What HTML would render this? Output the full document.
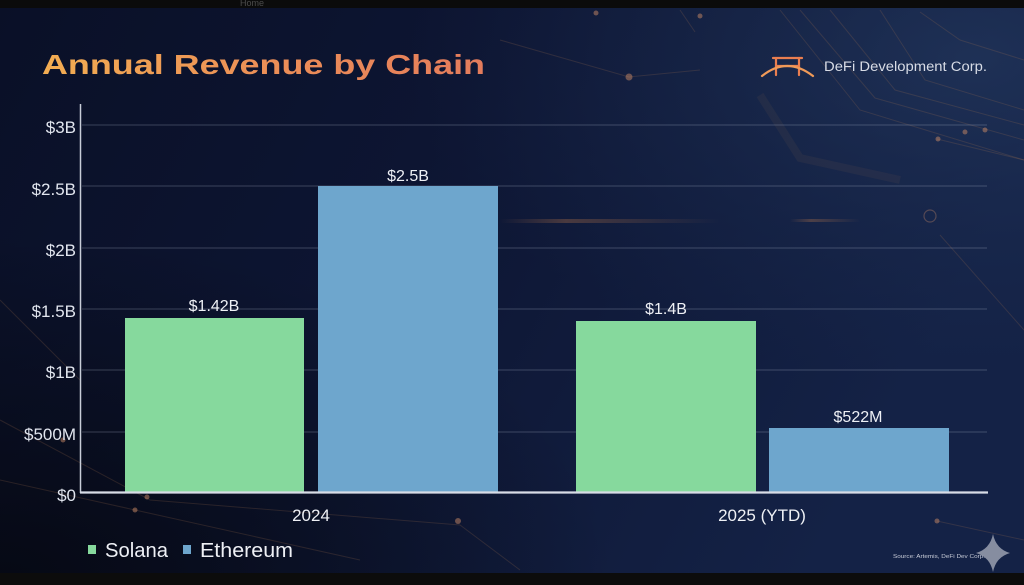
<!DOCTYPE html>
<html><head><meta charset="utf-8">
<style>
html,body{margin:0;padding:0;background:#0a0a0a;}
svg{display:block;}
text{font-family:"Liberation Sans",sans-serif;}
</style></head>
<body>
<svg width="1024" height="585" viewBox="0 0 1024 585" xmlns="http://www.w3.org/2000/svg">
<defs>
  <linearGradient id="bg" x1="0" y1="0" x2="1" y2="0.3">
    <stop offset="0" stop-color="#0a1027"/>
    <stop offset="0.45" stop-color="#0d1532"/>
    <stop offset="1" stop-color="#142246"/>
  </linearGradient>
  <radialGradient id="tr" cx="0.95" cy="0.1" r="0.55">
    <stop offset="0" stop-color="#22365c" stop-opacity="0.75"/>
    <stop offset="1" stop-color="#1a2a4e" stop-opacity="0"/>
  </radialGradient>
  <radialGradient id="bl" cx="0" cy="1" r="0.6">
    <stop offset="0" stop-color="#05070f" stop-opacity="0.85"/>
    <stop offset="1" stop-color="#05070f" stop-opacity="0"/>
  </radialGradient>
  <linearGradient id="title" x1="0" y1="0" x2="1" y2="0">
    <stop offset="0" stop-color="#f2ad52"/>
    <stop offset="0.5" stop-color="#ec8f57"/>
    <stop offset="1" stop-color="#e47c5c"/>
  </linearGradient>
  <linearGradient id="glow" x1="0" y1="0" x2="1" y2="0">
    <stop offset="0" stop-color="#d0824a" stop-opacity="0"/>
    <stop offset="0.3" stop-color="#d0824a" stop-opacity="0.3"/>
    <stop offset="1" stop-color="#d0824a" stop-opacity="0"/>
  </linearGradient>
</defs>

<rect x="0" y="0" width="1024" height="585" fill="url(#bg)"/>
<rect x="0" y="0" width="1024" height="585" fill="url(#tr)"/>
<rect x="0" y="0" width="1024" height="585" fill="url(#bl)"/>

<!-- circuit decorations -->
<g stroke="#b07a52" stroke-opacity="0.2" fill="none" stroke-width="1">
  <path d="M780 10 L860 110 L1024 160"/>
  <path d="M800 10 L875 98 L1024 140"/>
  <path d="M830 10 L895 90 L1024 125"/>
  <path d="M880 10 L925 80 L1024 110"/>
  <path d="M920 12 L960 40 L1024 60"/>
  <path d="M680 10 L695 32"/>
  <path d="M500 40 L629 77 L700 70"/>
  <path d="M937 139 L1024 160"/>
  <path d="M940 235 L1024 330"/>
  <path d="M0 300 L80 380"/>
  <path d="M0 420 L150 500 L460 525 L520 570"/>
  <path d="M0 480 L135 510 L360 560"/>
  <path d="M937 521 L1024 540"/>
</g>
<path d="M760 95 L800 158 L900 180" stroke="#b07a52" stroke-opacity="0.08" stroke-width="8" fill="none"/>
<rect x="500" y="219" width="220" height="4" fill="url(#glow)"/>
<rect x="790" y="219" width="70" height="3" fill="url(#glow)"/>
<g fill="#c98a66" fill-opacity="0.5">
  <circle cx="596" cy="13" r="2.5"/>
  <circle cx="700" cy="16" r="2.5"/>
  <circle cx="629" cy="77" r="3.5"/>
  <circle cx="938" cy="139" r="2.5"/>
  <circle cx="965" cy="132" r="2.5"/>
  <circle cx="985" cy="130" r="2.5"/>
  <circle cx="147" cy="497" r="2.5"/>
  <circle cx="135" cy="510" r="2.5"/>
  <circle cx="458" cy="521" r="3"/>
  <circle cx="937" cy="521" r="2.5"/>
  <circle cx="63" cy="440" r="2.5"/>
</g>
<circle cx="930" cy="216" r="6" fill="none" stroke="#c98a66" stroke-opacity="0.35" stroke-width="1.2"/>

<!-- top and bottom black bars -->
<rect x="0" y="0" width="1024" height="8" fill="#0b0b0b"/>
<text x="240" y="6" font-size="9" fill="#777" fill-opacity="0.6">Home</text>
<rect x="0" y="573" width="1024" height="12" fill="#0c0c0c"/>

<!-- title -->
<text x="42" y="74" font-size="28" font-weight="bold" fill="url(#title)" textLength="443" lengthAdjust="spacingAndGlyphs">Annual Revenue by Chain</text>

<!-- logo -->
<g stroke="#ea7e50" stroke-width="2.2" fill="none" stroke-linecap="round">
  <path d="M773 58 L802 58"/>
  <path d="M776 58 L776 75"/>
  <path d="M799 58 L799 75"/>
  <path d="M776 66 L799 66"/>
  <path d="M762 76 Q787 56 813 76" stroke="#f09a58"/>
</g>
<text x="824" y="71" font-size="13.5" fill="#d8dce6" textLength="163" lengthAdjust="spacingAndGlyphs">DeFi Development Corp.</text>

<!-- gridlines -->
<g stroke="#aab4c8" stroke-opacity="0.3" stroke-width="1">
  <line x1="82" y1="125" x2="987" y2="125"/>
  <line x1="82" y1="186" x2="987" y2="186"/>
  <line x1="82" y1="248" x2="987" y2="248"/>
  <line x1="82" y1="309" x2="987" y2="309"/>
  <line x1="82" y1="370" x2="987" y2="370"/>
  <line x1="82" y1="432" x2="987" y2="432"/>
</g>

<!-- y labels -->
<g font-size="17" fill="#e2e6ef" text-anchor="end">
  <text x="76" y="133">$3B</text>
  <text x="76" y="195">$2.5B</text>
  <text x="76" y="256">$2B</text>
  <text x="76" y="317">$1.5B</text>
  <text x="76" y="378">$1B</text>
  <text x="76" y="440">$500M</text>
  <text x="76" y="501">$0</text>
</g>

<!-- bars -->
<rect x="125" y="318" width="179" height="174" fill="#86d99d"/>
<rect x="318" y="186" width="180" height="306" fill="#6ea6cd"/>
<rect x="576" y="321" width="180" height="171" fill="#86d99d"/>
<rect x="769" y="428" width="180" height="64" fill="#6ea6cd"/>

<!-- axes -->
<line x1="80.5" y1="104" x2="80.5" y2="493" stroke="#c8cdd8" stroke-width="1.5"/>
<line x1="80" y1="492.5" x2="988" y2="492.5" stroke="#d8dce6" stroke-width="2.2"/>

<!-- value labels -->
<g font-size="16" fill="#eef0f5" text-anchor="middle">
  <text x="214" y="311">$1.42B</text>
  <text x="408" y="181">$2.5B</text>
  <text x="666" y="314">$1.4B</text>
  <text x="858" y="422">$522M</text>
</g>

<!-- category labels -->
<g font-size="17" fill="#eef0f5" text-anchor="middle">
  <text x="311" y="521">2024</text>
  <text x="762" y="521">2025 (YTD)</text>
</g>

<!-- legend -->
<rect x="88" y="545" width="8" height="9" fill="#86d99d"/>
<text x="105" y="557" font-size="20" fill="#eef0f5" textLength="63" lengthAdjust="spacingAndGlyphs">Solana</text>
<rect x="183" y="545" width="8" height="9" fill="#6ea6cd"/>
<text x="200" y="557" font-size="20" fill="#eef0f5" textLength="93" lengthAdjust="spacingAndGlyphs">Ethereum</text>

<!-- source + sparkle -->
<text x="893" y="558" font-size="5.5" fill="#c8ccd8" textLength="92" lengthAdjust="spacingAndGlyphs">Source: Artemis, DeFi Dev Corp.</text>
<path d="M993 534 Q996 549 1010 553 Q996 557 993 572 Q990 557 976 553 Q990 549 993 534 Z" fill="#9aa0b0" fill-opacity="0.85"/>
</svg>
</body></html>
